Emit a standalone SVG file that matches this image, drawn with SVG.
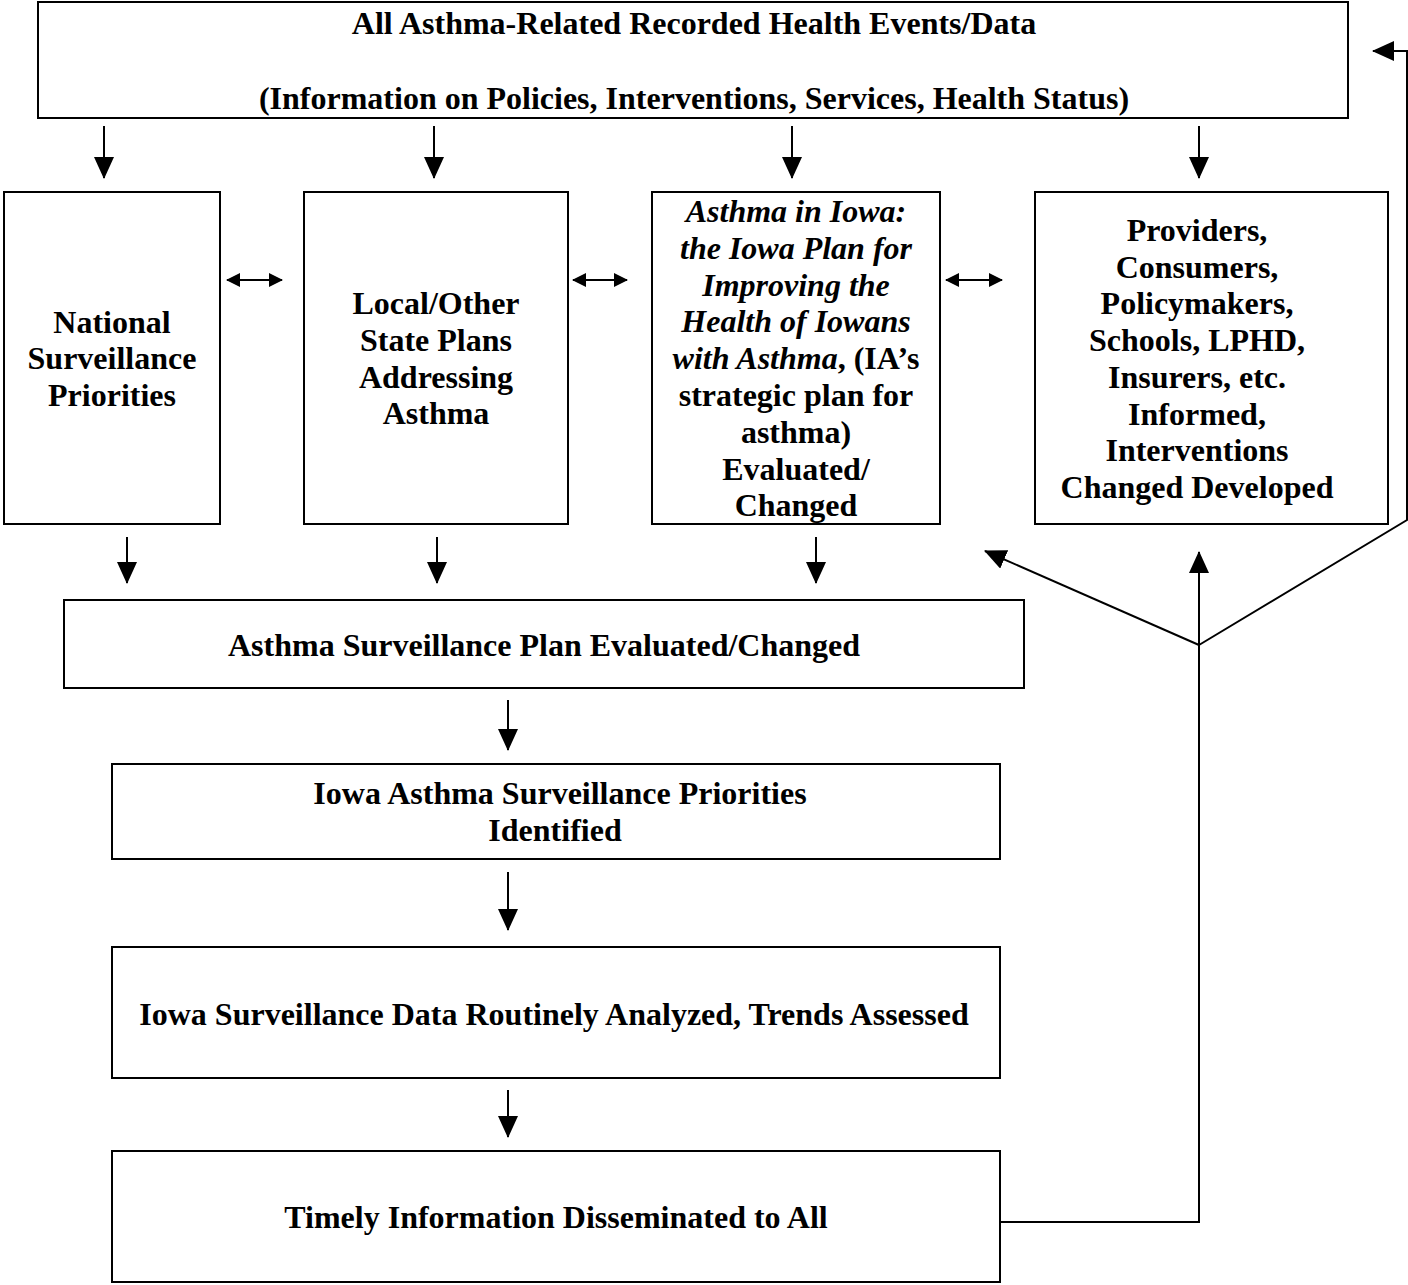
<svg xmlns="http://www.w3.org/2000/svg" width="1408" height="1285" viewBox="0 0 1408 1285">
<style>
.box{fill:#fff;stroke:#000;stroke-width:2}
.t{font-family:"Liberation Serif","Times New Roman",serif;font-weight:bold;font-size:32px;text-anchor:middle;fill:#000}
.i{font-style:italic}
.c{fill:none;stroke:#000;stroke-width:2}
</style>
<defs>
<marker id="ah" markerUnits="userSpaceOnUse" markerWidth="22" markerHeight="20" refX="21" refY="10" orient="auto"><path d="M0,0 L22,10 L0,20 z" fill="#000"/></marker>
<marker id="sh" markerUnits="userSpaceOnUse" markerWidth="14" markerHeight="14" refX="13" refY="7" orient="auto-start-reverse"><path d="M0,0 L14,7 L0,14 z" fill="#000"/></marker>
</defs>
<rect width="1408" height="1285" fill="#fff"/>

<g id="n-top">
<rect class="box" x="38" y="2" width="1310" height="116"/>
<text class="t" x="694" y="34">All Asthma-Related Recorded Health Events/Data</text>
<text class="t" x="694" y="109">(Information on Policies, Interventions, Services, Health Status)</text>
</g>

<g id="n-national">
<rect class="box" x="4" y="192" width="216" height="332"/>
<text class="t" x="112" y="333">National</text>
<text class="t" x="112" y="369">Surveillance</text>
<text class="t" x="112" y="406">Priorities</text>
</g>

<g id="n-local">
<rect class="box" x="304" y="192" width="264" height="332"/>
<text class="t" x="436" y="314">Local/Other</text>
<text class="t" x="436" y="351">State Plans</text>
<text class="t" x="436" y="388">Addressing</text>
<text class="t" x="436" y="424">Asthma</text>
</g>

<g id="n-iowaplan">
<rect class="box" x="652" y="192" width="288" height="332"/>
<text class="t i" x="796" y="222">Asthma in Iowa:</text>
<text class="t i" x="796" y="259">the Iowa Plan for</text>
<text class="t i" x="796" y="296">Improving the</text>
<text class="t i" x="796" y="332">Health of Iowans</text>
<text class="t" x="796" y="369"><tspan class="i">with Asthma</tspan>, (IA’s</text>
<text class="t" x="796" y="406">strategic plan for</text>
<text class="t" x="796" y="443">asthma)</text>
<text class="t" x="796" y="480">Evaluated/</text>
<text class="t" x="796" y="516">Changed</text>
</g>

<g id="n-providers">
<rect class="box" x="1035" y="192" width="353" height="332"/>
<text class="t" x="1197" y="241">Providers,</text>
<text class="t" x="1197" y="278">Consumers,</text>
<text class="t" x="1197" y="314">Policymakers,</text>
<text class="t" x="1197" y="351">Schools, LPHD,</text>
<text class="t" x="1197" y="388">Insurers, etc.</text>
<text class="t" x="1197" y="425">Informed,</text>
<text class="t" x="1197" y="461">Interventions</text>
<text class="t" x="1197" y="498">Changed Developed</text>
</g>

<g id="n-survplan">
<rect class="box" x="64" y="600" width="960" height="88"/>
<text class="t" x="544" y="656">Asthma Surveillance Plan Evaluated/Changed</text>
</g>

<g id="n-priorities">
<rect class="box" x="112" y="764" width="888" height="95"/>
<text class="t" x="560" y="804">Iowa Asthma Surveillance Priorities</text>
<text class="t" x="555" y="841">Identified</text>
</g>

<g id="n-analyzed">
<rect class="box" x="112" y="947" width="888" height="131"/>
<text class="t" x="554" y="1025">Iowa Surveillance Data Routinely Analyzed, Trends Assessed</text>
</g>

<g id="n-timely">
<rect class="box" x="112" y="1151" width="888" height="131"/>
<text class="t" x="556" y="1228">Timely Information Disseminated to All</text>
</g>

<g id="connectors">
<line class="c" x1="104" y1="126" x2="104" y2="178" marker-end="url(#ah)"/>
<line class="c" x1="434" y1="126" x2="434" y2="178" marker-end="url(#ah)"/>
<line class="c" x1="792" y1="126" x2="792" y2="178" marker-end="url(#ah)"/>
<line class="c" x1="1199" y1="126" x2="1199" y2="178" marker-end="url(#ah)"/>

<line class="c" x1="227" y1="280" x2="282" y2="280" marker-start="url(#sh)" marker-end="url(#sh)"/>
<line class="c" x1="573" y1="280" x2="627" y2="280" marker-start="url(#sh)" marker-end="url(#sh)"/>
<line class="c" x1="946" y1="280" x2="1002" y2="280" marker-start="url(#sh)" marker-end="url(#sh)"/>

<line class="c" x1="127" y1="537" x2="127" y2="583" marker-end="url(#ah)"/>
<line class="c" x1="437" y1="537" x2="437" y2="583" marker-end="url(#ah)"/>
<line class="c" x1="816" y1="537" x2="816" y2="583" marker-end="url(#ah)"/>

<line class="c" x1="508" y1="700" x2="508" y2="750" marker-end="url(#ah)"/>
<line class="c" x1="508" y1="872" x2="508" y2="930" marker-end="url(#ah)"/>
<line class="c" x1="508" y1="1090" x2="508" y2="1137" marker-end="url(#ah)"/>

<polyline class="c" points="1000,1222 1199,1222 1199,552" marker-end="url(#ah)"/>
<line class="c" x1="1199" y1="645" x2="985" y2="551" marker-end="url(#ah)"/>
<polyline class="c" points="1199,645 1407,520 1407,51 1373,51" marker-end="url(#ah)"/>
</g>
</svg>
